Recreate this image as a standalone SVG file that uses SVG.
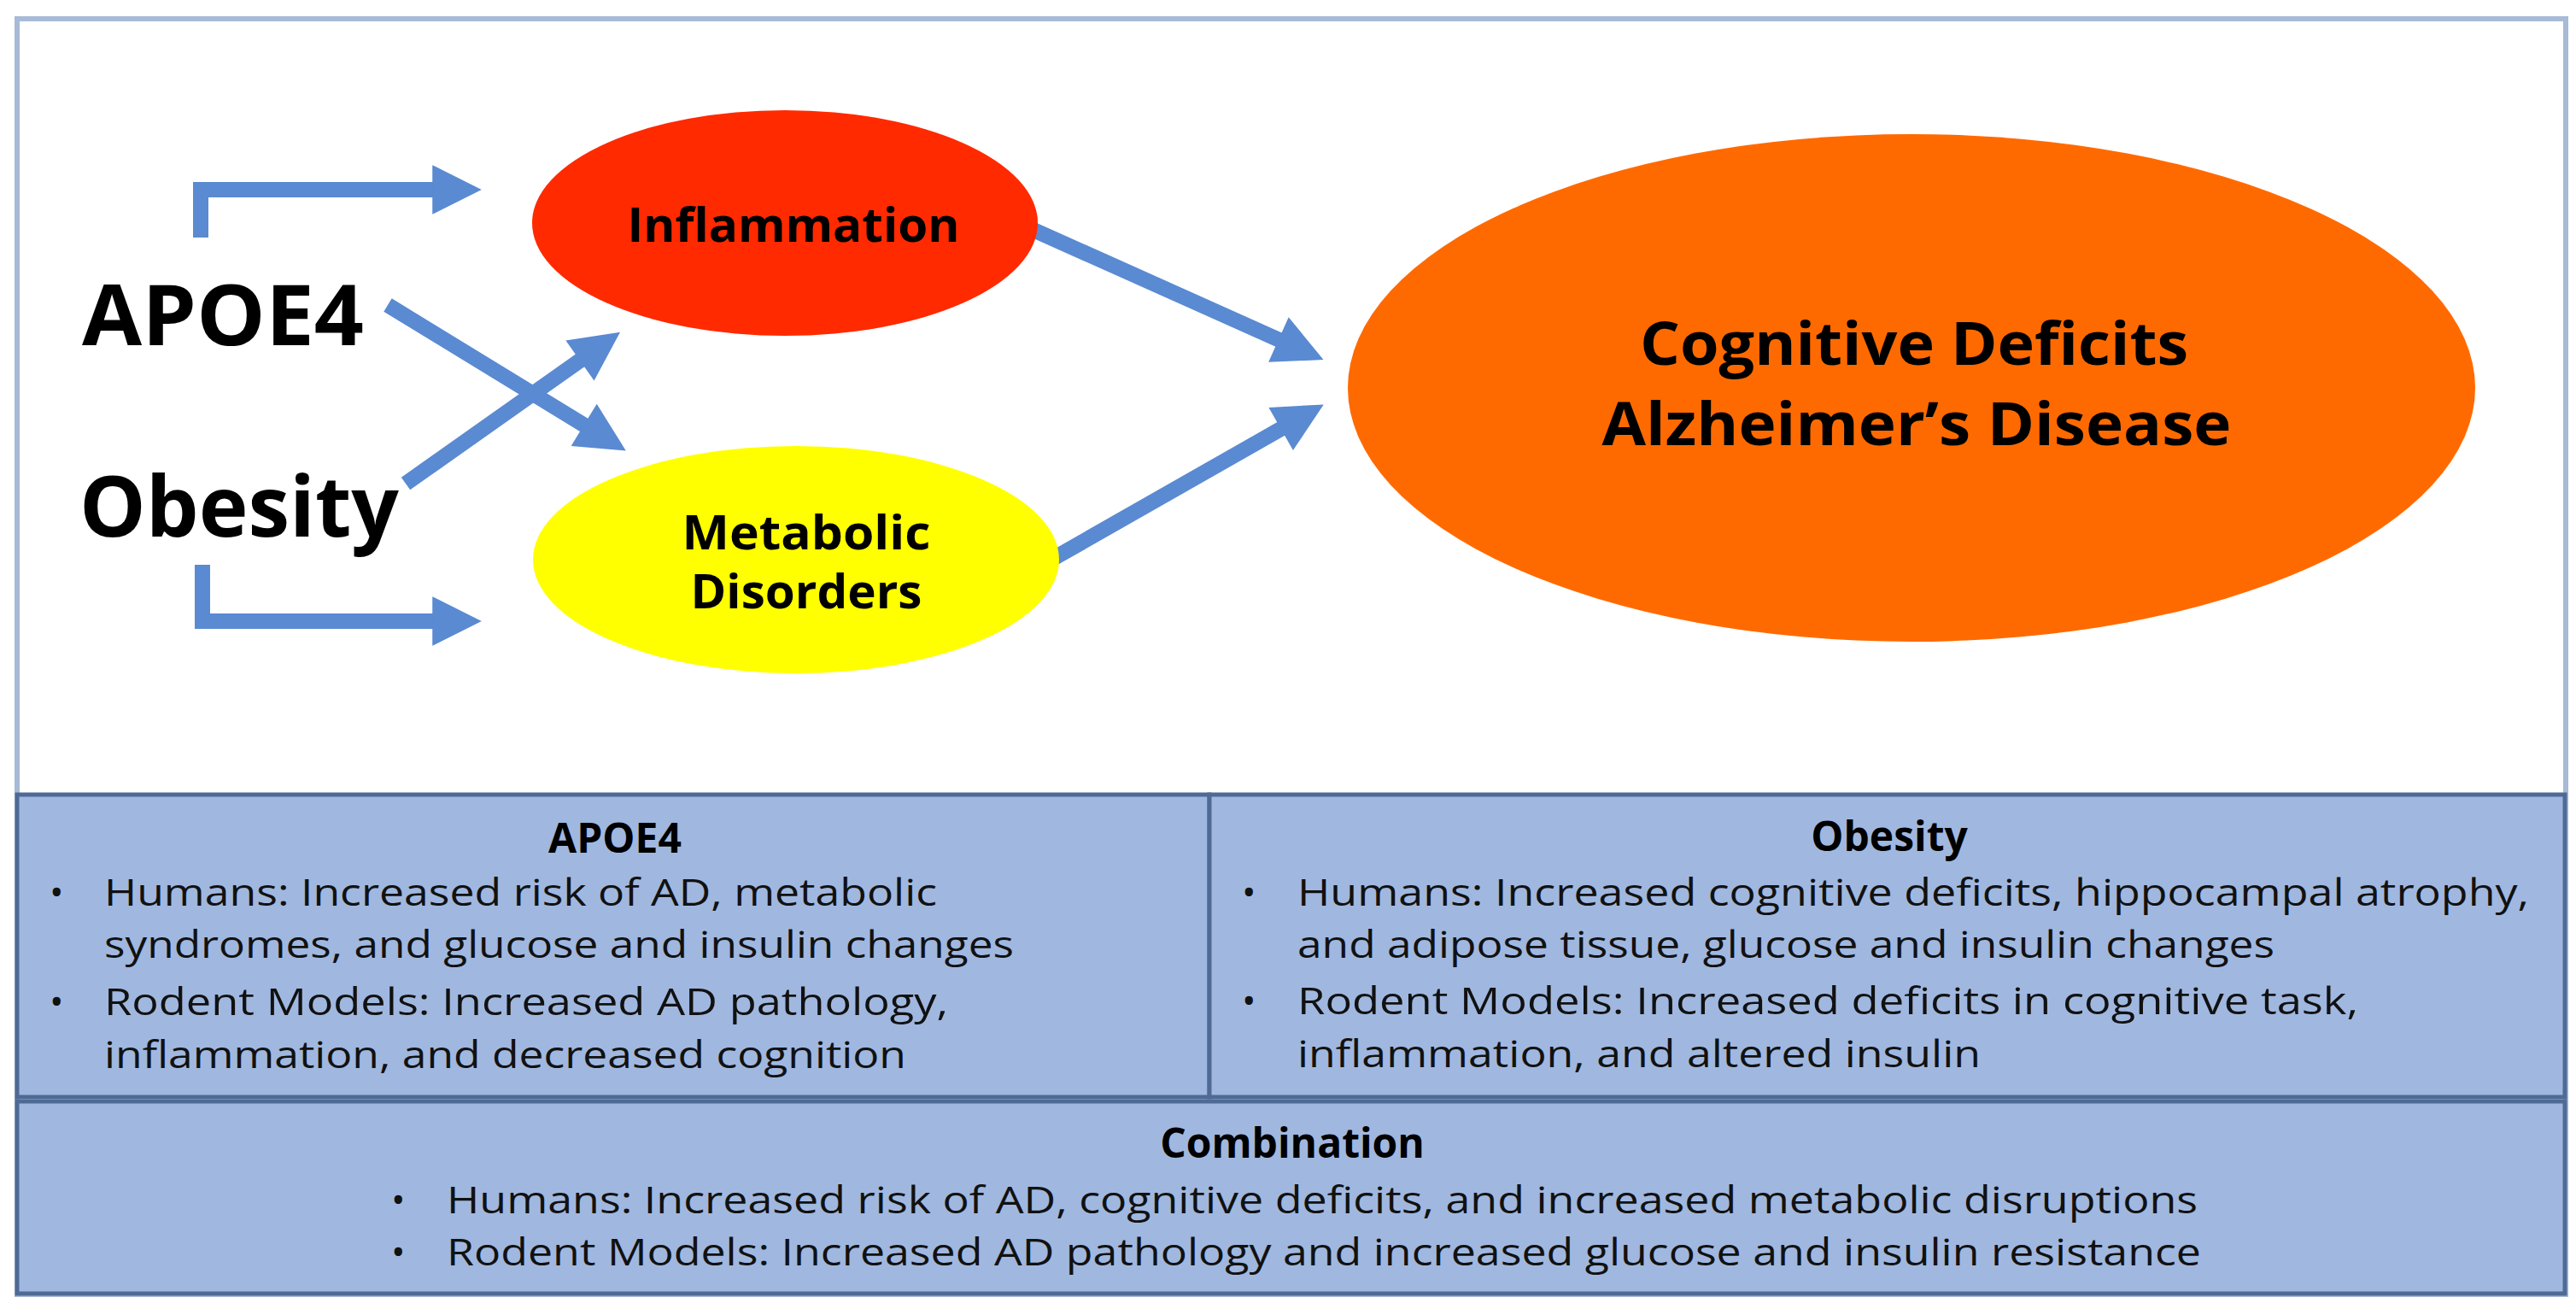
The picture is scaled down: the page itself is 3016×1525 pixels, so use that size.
<svg xmlns="http://www.w3.org/2000/svg" width="3016" height="1525" viewBox="0 0 3016 1525">
<defs>
<style>
.t{font-family:"Open Sans","Liberation Sans",sans-serif;fill:#000}
.big{font-size:98px;font-weight:700}
.node{font-size:56px;font-weight:700;text-anchor:middle}
.ad{font-size:70px;font-weight:700;text-anchor:middle}
.hd{font-size:48px;font-weight:700;text-anchor:middle}
.bd{font-size:44px;fill:#111}
.conn{fill:none;stroke:#5A8AD2;stroke-width:18;stroke-linejoin:miter}
.panel{fill:#A0B8E0;stroke:#4E6A95;stroke-width:5}
</style>
<marker id="ah" viewBox="0 0 10 10" refX="1" refY="5" markerWidth="3.5" markerHeight="3.2" orient="auto">
<path d="M0,0 L10,5 L0,10 z" fill="#5A8AD2"/>
</marker>
</defs>
<rect x="0" y="0" width="3016" height="1525" fill="#fff"/>
<rect id="frame" x="20" y="22" width="2984" height="1493" fill="#fff" stroke="#A7BAD6" stroke-width="6"/>

<g id="connectors">
<path class="conn" d="M235,278 V222 H512" marker-end="url(#ah)"/>
<path class="conn" d="M237,661 V727 H512" marker-end="url(#ah)"/>
<path class="conn" d="M454,357 L688.6,500.4" marker-end="url(#ah)"/>
<path class="conn" d="M475,566 L683.7,418.7" marker-end="url(#ah)"/>
<path class="conn" d="M1203,266 L1502.2,399.9" marker-end="url(#ah)"/>
<path class="conn" d="M1229,656 L1504.7,499.1" marker-end="url(#ah)"/>
</g>

<g id="apoe4">
<text class="t big" x="96" y="404" textLength="330" lengthAdjust="spacingAndGlyphs">APOE4</text>
</g>
<g id="obesity">
<text class="t big" x="93" y="628" textLength="374" lengthAdjust="spacingAndGlyphs">Obesity</text>
</g>
<g id="inflammation">
<ellipse cx="919" cy="261" rx="296" ry="132" fill="#FF2A00"/>
<text class="t node" x="929" y="283" textLength="389" lengthAdjust="spacingAndGlyphs">Inflammation</text>
</g>
<g id="metabolic">
<ellipse cx="932" cy="655" rx="308" ry="133" fill="#FFFF00"/>
<text class="t node" x="944" y="643" textLength="291" lengthAdjust="spacingAndGlyphs">Metabolic</text>
<text class="t node" x="944" y="712" textLength="271" lengthAdjust="spacingAndGlyphs">Disorders</text>
</g>
<g id="cognitive">
<ellipse cx="2238" cy="454" rx="660" ry="297" fill="#FF6A00"/>
<text class="t ad" x="2241" y="427" textLength="642" lengthAdjust="spacingAndGlyphs">Cognitive Deficits</text>
<text class="t ad" x="2244" y="521" textLength="737" lengthAdjust="spacingAndGlyphs">Alzheimer’s Disease</text>
</g>

<g id="panel-apoe4">
<rect class="panel" x="20" y="930" width="1396" height="354"/>
<text class="t hd" x="720" y="998">APOE4</text>
<text class="t bd" x="58" y="1060">•</text>
<text class="t bd" x="122" y="1060" textLength="975" lengthAdjust="spacingAndGlyphs">Humans: Increased risk of AD, metabolic</text>
<text class="t bd" x="122" y="1121" textLength="1065" lengthAdjust="spacingAndGlyphs">syndromes, and glucose and insulin changes</text>
<text class="t bd" x="58" y="1188">•</text>
<text class="t bd" x="122" y="1188" textLength="988" lengthAdjust="spacingAndGlyphs">Rodent Models: Increased AD pathology,</text>
<text class="t bd" x="122" y="1250" textLength="939" lengthAdjust="spacingAndGlyphs">inflammation, and decreased cognition</text>
</g>
<g id="panel-obesity">
<rect class="panel" x="1416" y="930" width="1587" height="354"/>
<text class="t hd" x="2212" y="996">Obesity</text>
<text class="t bd" x="1454" y="1060">•</text>
<text class="t bd" x="1519" y="1060" textLength="1442" lengthAdjust="spacingAndGlyphs">Humans: Increased cognitive deficits, hippocampal atrophy,</text>
<text class="t bd" x="1519" y="1121" textLength="1144" lengthAdjust="spacingAndGlyphs">and adipose tissue, glucose and insulin changes</text>
<text class="t bd" x="1454" y="1187">•</text>
<text class="t bd" x="1519" y="1187" textLength="1242" lengthAdjust="spacingAndGlyphs">Rodent Models: Increased deficits in cognitive task,</text>
<text class="t bd" x="1519" y="1249" textLength="800" lengthAdjust="spacingAndGlyphs">inflammation, and altered insulin</text>
</g>
<g id="panel-combination">
<rect class="panel" x="20" y="1289" width="2983" height="225"/>
<text class="t hd" x="1513" y="1355">Combination</text>
<text class="t bd" x="458" y="1420">•</text>
<text class="t bd" x="523" y="1420" textLength="2050" lengthAdjust="spacingAndGlyphs">Humans: Increased risk of AD, cognitive deficits, and increased metabolic disruptions</text>
<text class="t bd" x="458" y="1481">•</text>
<text class="t bd" x="523" y="1481" textLength="2054" lengthAdjust="spacingAndGlyphs">Rodent Models: Increased AD pathology and increased glucose and insulin resistance</text>
</g>
</svg>
